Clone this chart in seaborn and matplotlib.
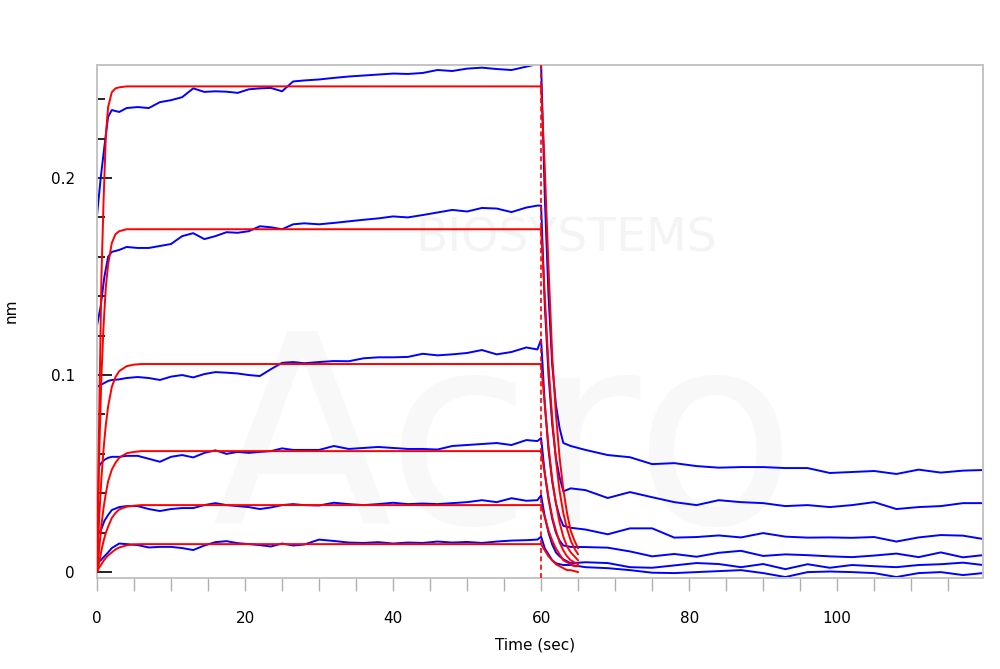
import matplotlib
matplotlib.use("Agg")
import matplotlib.pyplot as plt
from matplotlib.ticker import MultipleLocator, FuncFormatter
import pandas as pd
import seaborn as sns

# sample times (sec)
t_assoc = [0, 0.5, 1, 1.5, 2, 3, 4, 5.5, 7, 8.5, 10, 11.5, 13, 14.5, 16, 17.5, 19, 20.5,
           22, 23.5, 25, 26.5, 28, 30, 32, 34, 36, 38, 40, 42, 44, 46, 48, 50, 52, 54, 56, 58, 59.5]
t_dissoc = [60, 60.5, 61, 61.5, 62, 62.5, 63, 64, 66, 69, 72, 75, 78, 81, 84, 87, 90, 93,
            96, 99, 102, 105, 108, 111, 114, 117, 119.7]

# measured (blue) traces, association then dissociation, nm
blue1_assoc = [0.181, 0.200, 0.216, 0.231, 0.2345, 0.2335, 0.2355, 0.236, 0.2355, 0.2385, 0.2395,
               0.241, 0.2455, 0.2437, 0.2440, 0.2438, 0.2432, 0.2450, 0.2455, 0.2457, 0.2440,
               0.2490, 0.2495, 0.2500, 0.2508, 0.2515, 0.2520, 0.2525, 0.2530, 0.2528, 0.2533,
               0.2548, 0.2543, 0.2555, 0.2560, 0.2553, 0.2548, 0.2565, 0.2578]
blue1_dissoc = [0.258, 0.19, 0.14, 0.105, 0.085, 0.073, 0.0655, 0.064, 0.062, 0.0594, 0.0583,
                0.0548, 0.0553, 0.0538, 0.053, 0.0533, 0.0533, 0.0528, 0.0528, 0.0503, 0.0508,
                0.0513, 0.0498, 0.052, 0.0505, 0.0515, 0.0518]
blue2_assoc = [0.125, 0.135, 0.150, 0.160, 0.1625, 0.1635, 0.165, 0.1645, 0.1645, 0.1655, 0.1665,
               0.1705, 0.172, 0.169, 0.1705, 0.1725, 0.1722, 0.173, 0.1755, 0.175, 0.174,
               0.1765, 0.1770, 0.1765, 0.1772, 0.1780, 0.1788, 0.1795, 0.1805, 0.1800, 0.1812,
               0.1825, 0.1838, 0.1830, 0.1848, 0.1845, 0.1827, 0.1850, 0.1860]
blue2_dissoc = [0.186, 0.135, 0.10, 0.075, 0.058, 0.048, 0.041, 0.0425, 0.0416, 0.0376, 0.0406,
                0.038, 0.0355, 0.034, 0.0365, 0.0355, 0.035, 0.0335, 0.034, 0.033, 0.034,
                0.0355, 0.032, 0.033, 0.0335, 0.035, 0.035]
blue3_assoc = [0.094, 0.095, 0.096, 0.097, 0.0975, 0.0978, 0.0985, 0.0990, 0.0985, 0.0975, 0.0992,
               0.1000, 0.0988, 0.1005, 0.1015, 0.1012, 0.1008, 0.1000, 0.0995, 0.1030, 0.1062,
               0.1066, 0.1060, 0.1066, 0.1071, 0.1070, 0.1085, 0.1090, 0.1090, 0.1092, 0.1108,
               0.1100, 0.1105, 0.1112, 0.1127, 0.1105, 0.1117, 0.1140, 0.1130]
blue3_dissoc = [0.118, 0.085, 0.062, 0.046, 0.035, 0.028, 0.0235, 0.0225, 0.0216, 0.0192, 0.0222,
                0.0222, 0.0175, 0.0178, 0.0186, 0.0176, 0.0198, 0.0180, 0.0175, 0.0176, 0.0174,
                0.0178, 0.0155, 0.0176, 0.0188, 0.0185, 0.0168]
blue4_assoc = [0.052, 0.055, 0.057, 0.058, 0.0585, 0.0585, 0.0590, 0.0590, 0.0575, 0.0560, 0.0585,
               0.0594, 0.0582, 0.0605, 0.0618, 0.0600, 0.0610, 0.0605, 0.0610, 0.0614, 0.0628,
               0.0620, 0.0620, 0.0620, 0.0640, 0.0625, 0.0630, 0.0635, 0.0630, 0.0625, 0.0625,
               0.0622, 0.0640, 0.0645, 0.0650, 0.0655, 0.0645, 0.0670, 0.0665]
blue4_dissoc = [0.068, 0.050, 0.037, 0.027, 0.020, 0.016, 0.0135, 0.0128, 0.0127, 0.0124, 0.0105,
                0.0080, 0.0092, 0.0078, 0.0098, 0.0108, 0.0082, 0.0090, 0.0086, 0.0080, 0.0076,
                0.0084, 0.0094, 0.0076, 0.0100, 0.0075, 0.0086]
blue5_assoc = [0.020, 0.021, 0.026, 0.029, 0.0315, 0.0330, 0.0335, 0.0335, 0.0320, 0.0310, 0.0320,
               0.0325, 0.0325, 0.0340, 0.0350, 0.0340, 0.0335, 0.0330, 0.0320, 0.0328, 0.0340,
               0.0345, 0.0340, 0.0338, 0.0352, 0.0345, 0.0340, 0.0345, 0.0352, 0.0345, 0.0348,
               0.0345, 0.0350, 0.0355, 0.0365, 0.0355, 0.0375, 0.0362, 0.0365]
blue5_dissoc = [0.039, 0.028, 0.020, 0.014, 0.010, 0.008, 0.0065, 0.0045, 0.0050, 0.0046, 0.0025,
                0.0022, 0.0034, 0.0046, 0.0041, 0.0025, 0.0041, 0.0015, 0.0040, 0.0022, 0.0036,
                0.0030, 0.0025, 0.0036, 0.0040, 0.0048, 0.0036]
blue6_assoc = [0.0046, 0.006, 0.008, 0.010, 0.0122, 0.0145, 0.0142, 0.0137, 0.0125, 0.0128, 0.0128,
               0.0122, 0.0112, 0.0135, 0.0152, 0.0157, 0.0147, 0.0142, 0.0137, 0.0130, 0.0145,
               0.0135, 0.0140, 0.0165, 0.0158, 0.0150, 0.0148, 0.0152, 0.0145, 0.0150, 0.0148,
               0.0155, 0.0150, 0.0153, 0.0148, 0.0155, 0.0160, 0.0162, 0.0165]
blue6_dissoc = [0.018, 0.012, 0.009, 0.006, 0.0045, 0.004, 0.0036, 0.0036, 0.0025, 0.0020, 0.0010,
                -0.0003, -0.0005, 0.0000, 0.0005, 0.0010, -0.0005, -0.0025, 0.0000, 0.0003, 0.0000,
                -0.0005, -0.0025, -0.0005, 0.0000, -0.0015, -0.0005]

# fitted (red) curves
t_fit_assoc = [0, 0.3, 0.6, 0.9, 1.2, 1.5, 2, 2.5, 3, 4, 5, 6, 60]
t_fit_dissoc = [60, 60.5, 61, 61.5, 62, 62.5, 63, 63.5, 64, 64.5, 65]
red1_assoc = [0, 0.08, 0.15, 0.19, 0.222, 0.236, 0.2435, 0.2455, 0.246, 0.2465, 0.2465, 0.2465, 0.2465]
red2_assoc = [0, 0.06, 0.10, 0.126, 0.145, 0.156, 0.167, 0.1715, 0.173, 0.174, 0.174, 0.174, 0.174]
red3_assoc = [0, 0.028, 0.048, 0.063, 0.075, 0.084, 0.094, 0.099, 0.102, 0.1045, 0.1053, 0.1056, 0.1056]
red4_assoc = [0, 0.012, 0.024, 0.033, 0.040, 0.046, 0.052, 0.0555, 0.058, 0.0603, 0.061, 0.0614, 0.0614]
red5_assoc = [0, 0.005, 0.011, 0.016, 0.020, 0.023, 0.0275, 0.030, 0.0318, 0.0332, 0.0337, 0.034, 0.034]
red6_assoc = [0, 0.0025, 0.004, 0.0058, 0.0072, 0.0085, 0.010, 0.0115, 0.0125, 0.0136, 0.0141, 0.0142, 0.0142]
red1_dissoc = [0.2465, 0.205, 0.155, 0.110, 0.080, 0.058, 0.042, 0.030, 0.021, 0.016, 0.012]
red2_dissoc = [0.174, 0.140, 0.105, 0.078, 0.057, 0.041, 0.030, 0.022, 0.016, 0.012, 0.009]
red3_dissoc = [0.1056, 0.085, 0.064, 0.047, 0.035, 0.025, 0.018, 0.013, 0.010, 0.008, 0.006]
red4_dissoc = [0.0614, 0.050, 0.038, 0.028, 0.021, 0.015, 0.011, 0.008, 0.006, 0.005, 0.004]
red5_dissoc = [0.034, 0.028, 0.021, 0.016, 0.012, 0.009, 0.006, 0.005, 0.004, 0.003, 0.003]
red6_dissoc = [0.0142, 0.011, 0.008, 0.006, 0.004, 0.003, 0.002, 0.001, 0.001, 0.0005, 0.0]

blue = [(blue1_assoc, blue1_dissoc), (blue2_assoc, blue2_dissoc), (blue3_assoc, blue3_dissoc),
        (blue4_assoc, blue4_dissoc), (blue5_assoc, blue5_dissoc), (blue6_assoc, blue6_dissoc)]
red = [(red1_assoc, red1_dissoc), (red2_assoc, red2_dissoc), (red3_assoc, red3_dissoc),
       (red4_assoc, red4_dissoc), (red5_assoc, red5_dissoc), (red6_assoc, red6_dissoc)]

sns.set_style("white")
plt.rcParams["text.color"] = "black"
plt.rcParams["axes.labelcolor"] = "black"
plt.rcParams["xtick.labelcolor"] = "black"
plt.rcParams["ytick.labelcolor"] = "black"

fig = plt.figure(figsize=(10, 6.69), dpi=100)
ax = fig.add_axes([0.097, 0.136, 0.886, 0.767])

# faint watermark behind the curves
ax.text(0.53, 0.66, "BIOSYSTEMS", transform=ax.transAxes, fontsize=34, color="#f4f4f4",
        ha="center", va="center", zorder=0)
ax.text(0.46, 0.25, "Acro", transform=ax.transAxes, fontsize=190, color="#f8f8f8",
        ha="center", va="center", zorder=0)

for a, d in blue:
    df = pd.DataFrame({"time": t_assoc + t_dissoc, "nm": a + d})
    sns.lineplot(data=df, x="time", y="nm", color="#0000ff", lw=1.4, estimator=None, sort=False, ax=ax, zorder=2)

for a, d in red:
    sns.lineplot(x=t_fit_assoc, y=a, color="#ff0000", lw=1.4, estimator=None, sort=False, ax=ax, zorder=3)
    sns.lineplot(x=t_fit_dissoc, y=d, color="#ff0000", lw=1.4, estimator=None, sort=False, ax=ax, zorder=3)

ax.axvline(60, color="#ff0000", lw=1.2, ls=(0, (3, 2)), zorder=4)

ax.set_xlim(0, 119.7)
ax.set_ylim(-0.003, 0.2574)

ax.xaxis.set_major_locator(MultipleLocator(20))
ax.xaxis.set_minor_locator(MultipleLocator(5))
ax.yaxis.set_major_locator(MultipleLocator(0.1))
ax.yaxis.set_minor_locator(MultipleLocator(0.02))
ax.yaxis.set_major_formatter(FuncFormatter(lambda v, p: f"{v:g}"))

ax.tick_params(axis="x", which="both", direction="out", length=9, width=1, color="#b0b0b0",
               pad=15, labelsize=11, bottom=True, labelcolor="black")
ax.tick_params(axis="y", which="major", direction="in", length=11, width=1.2, color="black",
               pad=16, labelsize=11, left=True, labelcolor="black")
ax.tick_params(axis="y", which="minor", direction="in", length=5.5, width=1.2, color="black", left=True)

for s in ax.spines.values():
    s.set_color("#c4c4c4")
    s.set_linewidth(1.4)

ax.set_xlabel("Time (sec)", fontsize=11, color="black")
ax.set_ylabel("nm", fontsize=11, color="black")
ax.xaxis.label.set_va("center")
ax.xaxis.set_label_coords(0.494, -0.131)
ax.yaxis.set_label_coords(-0.089, 0.52)

fig.savefig("out.png", dpi=100)
